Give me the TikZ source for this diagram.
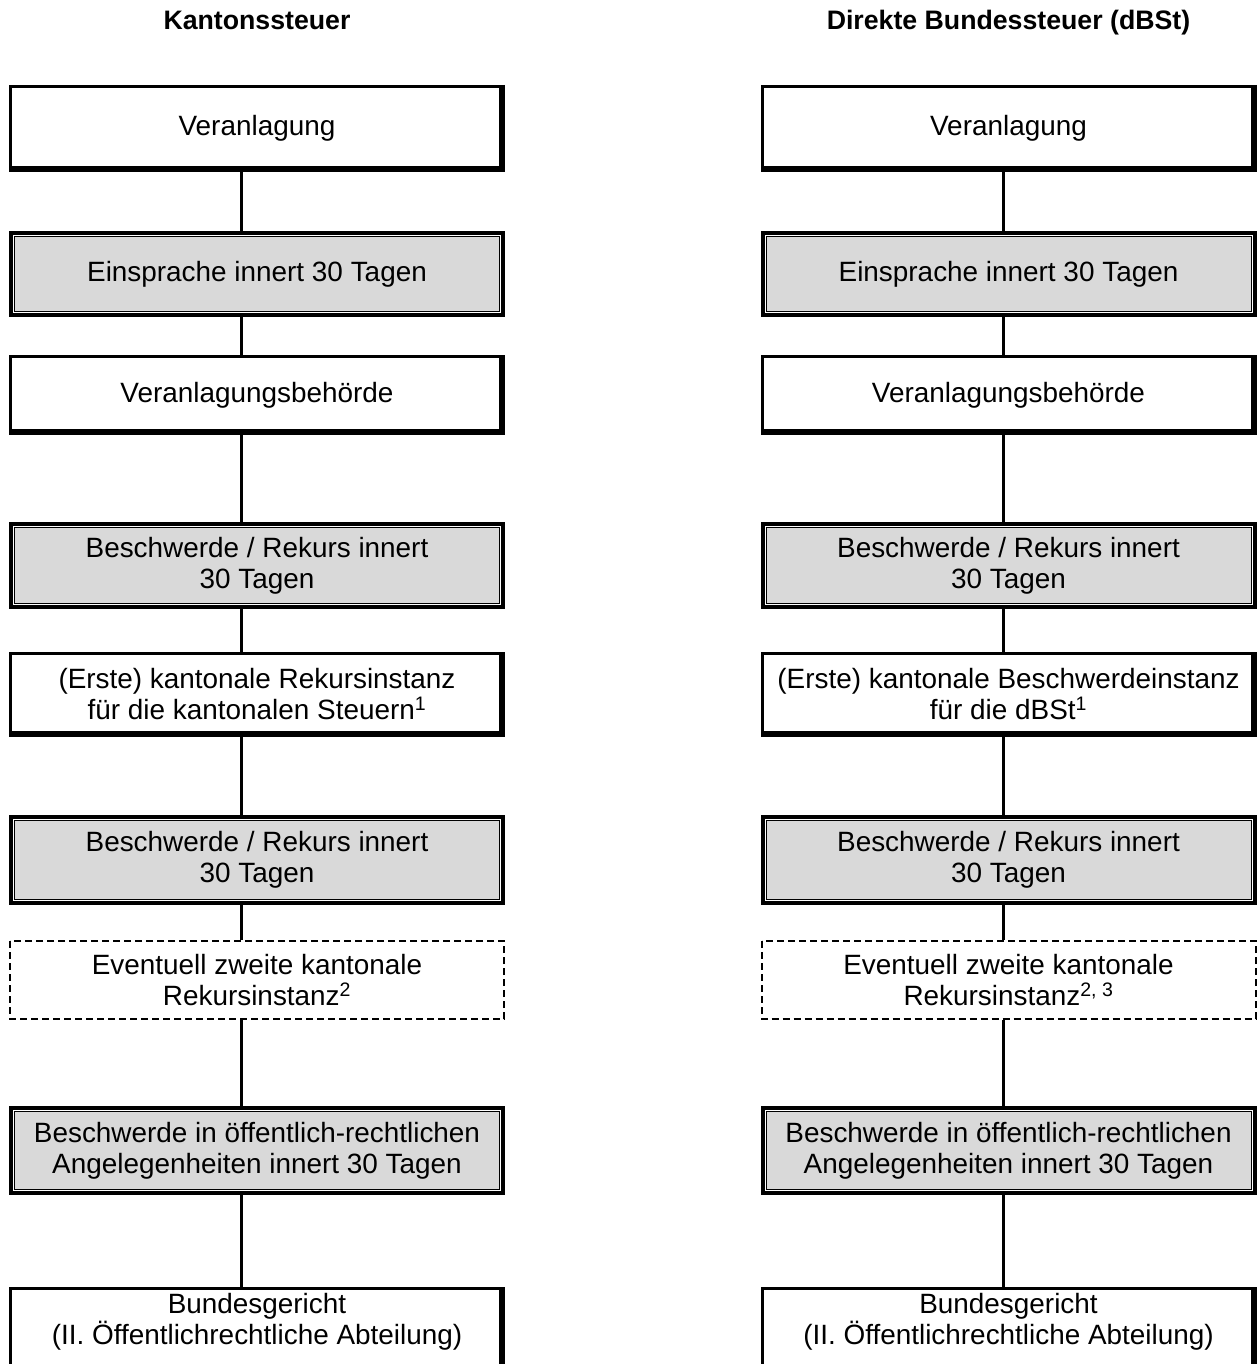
\documentclass[tikz,border=0pt]{standalone}
\usepackage{fontspec}
\setmainfont{Liberation Sans}
\definecolor{boxgray}{HTML}{D9D9D9}
\tikzset{
  every node/.style={inner sep=0pt, outer sep=0pt},
  body/.style={font=\fontsize{27.9pt}{31pt}\selectfont, align=center, minimum width=496pt},
  head/.style={font=\bfseries\fontsize{26.7pt}{30pt}\selectfont, anchor=base},
  conn/.style={line width=3pt},
  graybody/.style={body, fill=boxgray},
}
\newcommand\whiteframe[1]{%
  \draw[line width=3pt] ([shift={(1.5pt,-1.5pt)}]#1.north west) rectangle ([shift={(-3pt,3pt)}]#1.south east);
  \draw[line width=6pt] ([xshift=-3pt]#1.north east) -- ([shift={(-3pt,3pt)}]#1.south east) -- ([yshift=3pt]#1.south west);}
\newcommand\grayframe[1]{%
  \draw[line width=4pt] ([shift={(2pt,-2pt)}]#1.north west) rectangle ([shift={(-2pt,2pt)}]#1.south east);
  \draw[white, line width=1pt] ([shift={(4.5pt,-4.5pt)}]#1.north west) rectangle ([shift={(-4.5pt,4.5pt)}]#1.south east);
  \draw[line width=1pt] ([shift={(5.5pt,-5.5pt)}]#1.north west) rectangle ([shift={(-5.5pt,5.5pt)}]#1.south east);}
\newcommand\dashframe[1]{%
  \draw[line width=2pt, dash pattern=on 7pt off 4pt] ([shift={(1pt,-1pt)}]#1.north west) rectangle ([shift={(-1pt,1pt)}]#1.south east);}
\begin{document}
\begin{tikzpicture}[x=1pt, y=-1pt]
\useasboundingbox (0,0) rectangle (1258,1364);
\clip (0,0) rectangle (1258,1364);
\coordinate (cl) at (241,0);
\coordinate (cr) at (1003.5,0);

% headings
\node[head] (hL) at (257,30) {Kantonssteuer};
\node[head] (hR) at (1008.5,30) {Direkte Bundessteuer (dBSt)};

\foreach \s/\cx in {L/257, R/1008.5}{
  \node[body, minimum height=87pt] (\s1) at (\cx,128.5) {Veranlagung};
  \node[graybody, minimum height=86pt] (\s2) at (\cx,274) {Einsprache innert 30 Tagen};
  \node[body, minimum height=80pt] (\s3) at (\cx,395) {Veranlagungsbehörde};
  \node[graybody, minimum height=87pt] (\s4) at (\cx,565.5) {Beschwerde / Rekurs innert\\30 Tagen};
  \node[graybody, minimum height=90pt] (\s6) at (\cx,860) {Beschwerde / Rekurs innert\\30 Tagen};
  \node[graybody, minimum height=89pt] (\s8) at (\cx,1150.5) {Beschwerde in öffentlich-rechtlichen\\Angelegenheiten innert 30 Tagen};
  \node[body, minimum height=88pt, text depth=25pt] (\s9) at (\cx,1331) {Bundesgericht\\(II. Öffentlichrechtliche Abteilung)};
}
\node[body, minimum height=85pt] (L5) at (257,694.5) {(Erste) kantonale Rekursinstanz\\für die kantonalen Steuern\textsuperscript{1}};
\node[body, minimum height=85pt] (R5) at (1008.5,694.5) {(Erste) kantonale Beschwerdeinstanz\\für die dBSt\textsuperscript{1}};
\node[body, minimum height=80pt] (L7) at (257,980) {Eventuell zweite kantonale\\Rekursinstanz\textsuperscript{2}};
\node[body, minimum height=80pt] (R7) at (1008.5,980) {Eventuell zweite kantonale\\Rekursinstanz\textsuperscript{2, 3}};

\foreach \s in {L,R}{
  \whiteframe{\s1}\whiteframe{\s3}\whiteframe{\s5}\whiteframe{\s9}
  \grayframe{\s2}\grayframe{\s4}\grayframe{\s6}\grayframe{\s8}
  \dashframe{\s7}
}
\foreach \a/\b in {1/2,2/3,3/4,4/5,5/6,6/7,7/8,8/9}{
  \draw[conn] (L\a.south -| cl) -- (L\b.north -| cl);
  \draw[conn] (R\a.south -| cr) -- (R\b.north -| cr);
}
\end{tikzpicture}
\end{document}
